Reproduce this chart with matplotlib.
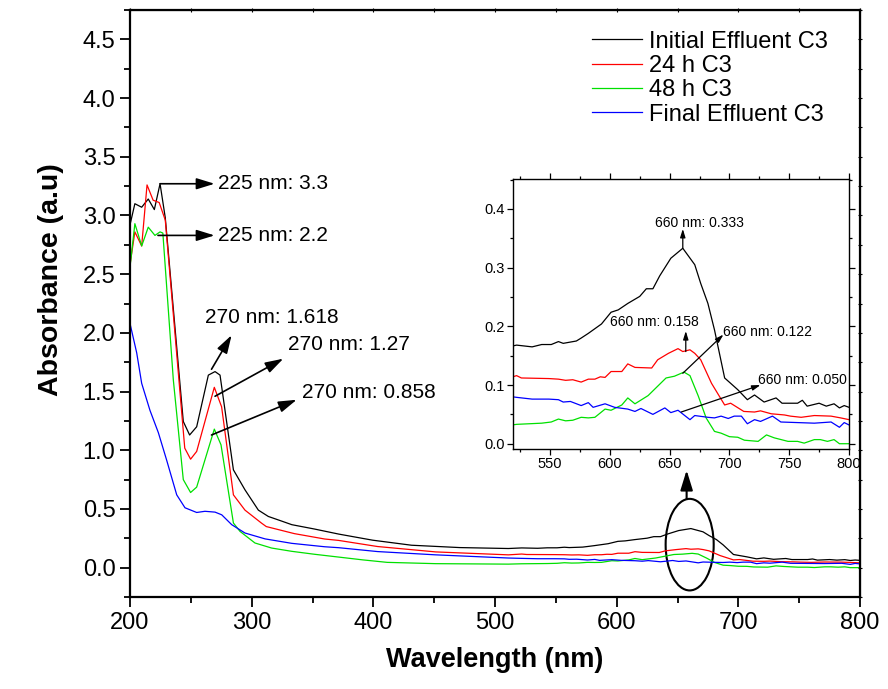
import numpy as np
import matplotlib.pyplot as plt
from matplotlib.patches import Ellipse
from matplotlib.ticker import MultipleLocator, NullFormatter

plt.rcParams['font.family'] = ['Liberation Sans', 'DejaVu Sans']

# Initial Effluent C3
wl_init = [200, 204, 209.6, 215, 220, 224.7, 229, 243.8, 249, 254.8, 264.4, 269.9, 274, 285, 294.5,
           305.5, 313.7, 323.7, 333, 351.6, 371.5, 399.4, 431.4, 471, 511, 522, 535, 543, 551, 557,
           561, 572, 576, 582, 593, 601, 607, 615, 625, 630.5, 636, 641.7, 651, 661, 671, 676, 682,
           687.5, 696, 707, 715, 721, 729, 739, 744, 757, 761, 765, 775, 781, 787.5, 792, 796, 800]
abs_init = [2.92, 3.10, 3.07, 3.14, 3.05, 3.27, 2.98, 1.245, 1.13, 1.20, 1.64, 1.67, 1.64, 0.833, 0.663,
            0.49, 0.436, 0.40, 0.366, 0.329, 0.286, 0.234, 0.191, 0.171, 0.163, 0.168, 0.165, 0.169, 0.169, 0.174,
            0.171, 0.175, 0.18, 0.188, 0.204, 0.224, 0.228, 0.239, 0.251, 0.264, 0.264, 0.286, 0.316, 0.333, 0.305, 0.273, 0.239,
            0.194, 0.112, 0.092, 0.075, 0.083, 0.071, 0.078, 0.069, 0.069, 0.074, 0.064, 0.069, 0.064, 0.068, 0.061, 0.065, 0.062]

# 24 h C3
wl_24h = [200, 204, 209.6, 214, 219, 224, 229, 245, 249.8, 254.8, 269.3, 275.3, 285, 294.5, 308, 312,
          335, 360, 371.5, 403.4, 451.3, 511, 522, 526, 549, 557, 563, 569, 576, 582, 587.5, 592, 596,
          601, 610, 615, 621, 635, 640, 649, 657, 661, 667, 671, 676, 685, 696, 701, 712, 721, 726, 735,
          746, 751, 760, 771, 785, 793, 800]
abs_24h = [2.58, 2.86, 2.74, 3.26, 3.13, 3.11, 2.96, 1.018, 0.924, 0.99, 1.536, 1.37, 0.62, 0.49, 0.38, 0.35,
           0.29, 0.244, 0.232, 0.18, 0.134, 0.109, 0.116, 0.112, 0.111, 0.110, 0.108, 0.109, 0.105, 0.110, 0.110, 0.114, 0.113,
           0.123, 0.123, 0.136, 0.130, 0.129, 0.143, 0.154, 0.162, 0.157, 0.160, 0.154, 0.143, 0.103, 0.066, 0.069, 0.055, 0.054, 0.056, 0.051,
           0.049, 0.047, 0.045, 0.048, 0.047, 0.044, 0.041]

# 48 h C3
wl_48h = [200, 204, 209.6, 215, 220.5, 224.7, 227, 235.6, 243.8, 249.8, 254.8, 269.3, 274.8, 285, 290.4,
          302.7, 316.4, 333, 351.6, 391.5, 411.4, 451.3, 511, 522, 543, 551, 557, 563, 569, 576, 582,
          587.5, 596, 601, 610, 615, 621, 632, 640, 647, 654, 662, 667, 674, 680.5, 687.5, 693, 700,
          707, 712.5, 724, 731, 737.5, 749, 757, 762.5, 771, 776, 782, 787.5, 792, 800]
abs_48h = [2.56, 2.93, 2.74, 2.90, 2.83, 2.86, 2.85, 1.60, 0.75, 0.64, 0.686, 1.18, 1.046, 0.38, 0.309,
           0.21, 0.167, 0.139, 0.114, 0.066, 0.045, 0.034, 0.030, 0.033, 0.035, 0.037, 0.042, 0.039, 0.040, 0.045, 0.044,
           0.045, 0.059, 0.057, 0.066, 0.078, 0.068, 0.082, 0.098, 0.112, 0.115, 0.122, 0.116, 0.081, 0.044, 0.021, 0.018, 0.012,
           0.011, 0.006, 0.004, 0.015, 0.010, 0.004, 0.004, 0.001, 0.007, 0.007, 0.004, 0.007, 0.000, 0.000]

# Final Effluent C3
wl_final = [200, 205.5, 209.6, 216.4, 223.3, 230, 238.4, 245.2, 254.8, 261.6, 269.9, 275.4, 283.6, 294.5,
            311, 333, 360, 371.5, 403.4, 451.3, 511, 522, 535, 549, 557, 561, 567, 576, 582, 586, 596,
            604, 615, 621, 626, 636, 646, 651, 657, 667, 671, 682, 687.5, 693, 699, 704, 710, 715, 721,
            726, 736, 743, 757, 771, 785, 792, 796, 800]
abs_final = [2.08, 1.83, 1.57, 1.34, 1.15, 0.92, 0.62, 0.51, 0.47, 0.48, 0.473, 0.45, 0.366, 0.295,
             0.245, 0.207, 0.178, 0.17, 0.137, 0.109, 0.082, 0.079, 0.076, 0.076, 0.075, 0.071, 0.072, 0.065, 0.070, 0.062, 0.068,
             0.062, 0.059, 0.055, 0.060, 0.050, 0.061, 0.053, 0.057, 0.041, 0.048, 0.045, 0.044, 0.047, 0.043, 0.047, 0.047, 0.034, 0.041,
             0.038, 0.047, 0.037, 0.036, 0.035, 0.037, 0.028, 0.036, 0.032]

series = [(wl_init, abs_init, 'black', 'Initial Effluent C3'),
          (wl_24h, abs_24h, '#ff0000', '24 h C3'),
          (wl_48h, abs_48h, '#00e000', '48 h C3'),
          (wl_final, abs_final, '#0000ff', 'Final Effluent C3')]

fig = plt.figure(figsize=(8.88, 6.89), dpi=100)
ax = fig.add_axes([130/888, 92/689, 730/888, 587/689])

for wl, a, c, lab in series:
    ax.plot(wl, a, color=c, lw=0.9, label=lab)

ax.set_xlim(200, 800)
ax.set_ylim(-0.25, 4.75)
ax.xaxis.set_major_locator(MultipleLocator(100))
ax.xaxis.set_minor_locator(MultipleLocator(50))
ax.yaxis.set_major_locator(MultipleLocator(0.5))
ax.yaxis.set_minor_locator(MultipleLocator(0.25))
ax.yaxis.set_major_formatter(plt.FormatStrFormatter('%.1f'))
ax.tick_params(which='both', direction='out', labelsize=17, width=1.3)
ax.tick_params(which='major', length=7)
ax.tick_params(which='minor', length=4)
for s in ax.spines.values():
    s.set_linewidth(1.6)
ax.set_xlabel('Wavelength (nm)', fontsize=19.5, fontweight='bold', labelpad=10)
ax.set_ylabel('Absorbance (a.u)', fontsize=20.5, fontweight='bold')
ax.yaxis.set_label_coords(-0.09, 0.54)

# small crossing ticks on top and right spines
top = ax.secondary_xaxis('top')
top.xaxis.set_major_locator(MultipleLocator(50))
top.xaxis.set_major_formatter(NullFormatter())
top.tick_params(direction='inout', length=3, width=0.8)
right = ax.secondary_yaxis('right')
right.yaxis.set_major_locator(MultipleLocator(0.25))
right.yaxis.set_major_formatter(NullFormatter())
right.tick_params(direction='inout', length=3, width=0.8)

ax.legend(loc='upper left', bbox_to_anchor=(0.617, 0.985), frameon=False, fontsize=17,
          handlelength=2.1, handletextpad=0.3, labelspacing=0.1, borderpad=0)

def arrow(axis, start, end, scale=20, lw=1.2):
    axis.annotate('', xy=end, xytext=start,
                  arrowprops=dict(arrowstyle='-|>,head_length=0.55,head_width=0.17',
                                  mutation_scale=scale, lw=lw, color='black',
                                  shrinkA=0, shrinkB=0))

# main annotations
arrow(ax, (224.7, 3.27), (269.5, 3.27))
ax.text(272.5, 3.27, '225 nm: 3.3', fontsize=15, va='center', ha='left')
arrow(ax, (223, 2.83), (269.5, 2.83))
ax.text(272.5, 2.83, '225 nm: 2.2', fontsize=15, va='center', ha='left')
arrow(ax, (267, 1.69), (283.5, 1.98))
ax.text(261.5, 2.13, '270 nm: 1.618', fontsize=15, va='center', ha='left')
arrow(ax, (269.9, 1.46), (326, 1.78))
ax.text(329.5, 1.905, '270 nm: 1.27', fontsize=15, va='center', ha='left')
arrow(ax, (267, 1.13), (337, 1.43))
ax.text(341, 1.49, '270 nm: 0.858', fontsize=15, va='center', ha='left')

ax.add_patch(Ellipse((660, 0.196), 39.5, 0.78, fill=False, lw=1.5, color='black'))
arrow(ax, (657.5, 0.586), (657.5, 0.83), scale=22, lw=1.5)

# inset
axi = fig.add_axes([513/888, 240/689, 336/888, 270/689])
for wl, a, c, lab in series:
    axi.plot(wl, a, color=c, lw=0.9)
axi.set_xlim(519, 800)
axi.set_ylim(-0.009, 0.451)
axi.xaxis.set_major_locator(MultipleLocator(50))
axi.xaxis.set_minor_locator(MultipleLocator(25))
axi.yaxis.set_major_locator(MultipleLocator(0.1))
axi.yaxis.set_minor_locator(MultipleLocator(0.05))
axi.yaxis.set_major_formatter(plt.FormatStrFormatter('%.1f'))
axi.tick_params(which='both', direction='out', labelsize=10.5, width=0.9, pad=2)
axi.tick_params(which='major', length=4)
axi.tick_params(which='minor', length=2.5)
axi.tick_params(which='both', top=True, right=True, labeltop=False, labelright=False)
for s in axi.spines.values():
    s.set_linewidth(1.0)

arrow(axi, (661, 0.333), (661, 0.366), scale=9, lw=0.9)
axi.text(675, 0.376, '660 nm: 0.333', fontsize=10, va='center', ha='center')
arrow(axi, (663.5, 0.157), (663.5, 0.192), scale=9, lw=0.9)
axi.text(600.5, 0.207, '660 nm: 0.158', fontsize=10, va='center', ha='left')
arrow(axi, (661, 0.12), (695, 0.186), scale=9, lw=0.9)
axi.text(695, 0.191, '660 nm: 0.122', fontsize=10, va='center', ha='left')
arrow(axi, (659.7, 0.054), (726, 0.1), scale=9, lw=0.9)
axi.text(723.5, 0.109, '660 nm: 0.050', fontsize=10, va='center', ha='left')

fig.savefig('out.png', dpi=100)
